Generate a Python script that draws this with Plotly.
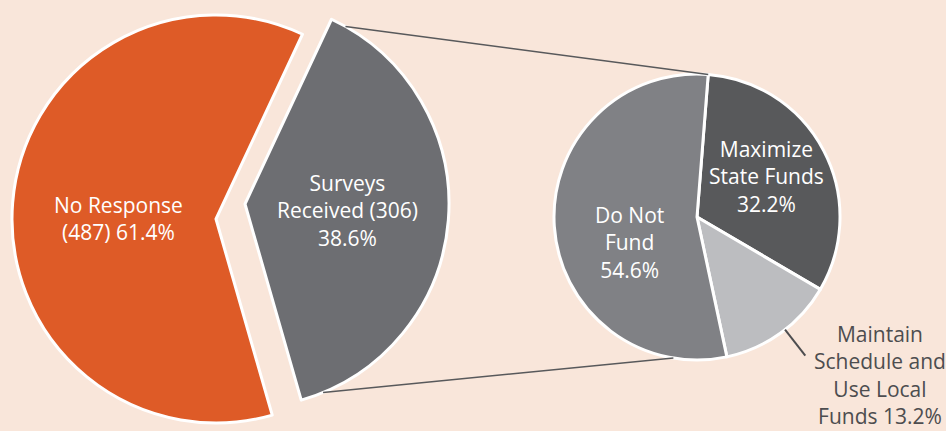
import math
import plotly.graph_objects as go

# ---- data ----
outer_labels = ["No Response", "Surveys Received"]
outer_counts = [487, 306]
outer_pct = [61.4, 38.6]

inner_labels = ["Maximize State Funds", "Maintain Schedule and Use Local Funds", "Do Not Fund"]
inner_pct = [32.2, 13.2, 54.6]

outer_text = ["No Response<br>(487) 61.4%", "Surveys<br>Received (306)<br>38.6%"]
inner_text = ["Maximize<br>State Funds<br>32.2%", "Maintain<br>Schedule and<br>Use Local<br>Funds 13.2%", "Do Not<br>Fund<br>54.6%"]

# ---- styles / layout ----
W, H = 946, 431
BG = "#F9E6DA"
ORANGE = "#DE5B27"
GRAY_OUT = "#6D6E72"
C_MAX = "#58595B"
C_MAINT = "#BCBDC0"
C_DNF = "#808185"
CLEAR = "rgba(0,0,0,0)"
FONT = "Open Sans"

# pie geometry in pixels (center x, center y, radius)
P_LEFT = (216, 219, 204)
P_GRAY = (245, 204, 204)
P_RIGHT = (697, 217, 143)
ROT_OUT = 164
ROT_IN = 4.5


def domain(p):
    cx, cy, r = p
    return dict(x=[(cx - r) / W, (cx + r) / W], y=[1 - (cy + r) / H, 1 - (cy - r) / H])


def on_circle(p, ang, k=1.0):
    cx, cy, r = p
    a = math.radians(ang)
    x = cx + k * r * math.sin(a)
    y = cy - k * r * math.cos(a)
    return x / W, 1 - y / H


fig = go.Figure()
common = dict(sort=False, direction="clockwise", textinfo="none", hoverinfo="skip", showlegend=False)

fig.add_trace(go.Pie(values=outer_counts, labels=outer_labels, rotation=ROT_OUT, domain=domain(P_LEFT),
                     marker=dict(colors=[ORANGE, CLEAR], line=dict(color=["white", CLEAR], width=[3, 0])), **common))
fig.add_trace(go.Pie(values=outer_counts, labels=outer_labels, rotation=ROT_OUT, domain=domain(P_GRAY),
                     marker=dict(colors=[CLEAR, GRAY_OUT], line=dict(color=[CLEAR, "white"], width=[0, 3])), **common))
fig.add_trace(go.Pie(values=inner_pct, labels=inner_labels, rotation=ROT_IN, domain=domain(P_RIGHT),
                     marker=dict(colors=[C_MAX, C_MAINT, C_DNF], line=dict(color="white", width=3)), **common))

shapes = []
# connector lines
x0, y0 = on_circle(P_GRAY, 29.5)
x1, y1 = on_circle(P_RIGHT, ROT_IN)
shapes.append(dict(type="line", xref="paper", yref="paper", x0=x0, y0=y0, x1=x1, y1=y1,
                   line=dict(color="#58595B", width=1.5)))
x0, y0 = on_circle(P_GRAY, 157.5)
x1, y1 = on_circle(P_RIGHT, 189.5)
shapes.append(dict(type="line", xref="paper", yref="paper", x0=x0, y0=y0, x1=x1, y1=y1,
                   line=dict(color="#58595B", width=1.5)))
# leader for small slice
x0, y0 = on_circle(P_RIGHT, 142, 1.0)
x1, y1 = on_circle(P_RIGHT, 142, 1.23)
shapes.append(dict(type="line", xref="paper", yref="paper", x0=x0, y0=y0, x1=x1, y1=y1,
                   line=dict(color="#4D4D4F", width=2)))

label_pos = [(118, 218, outer_text[0], "white"),
             (347, 210, outer_text[1], "white"),
             (766, 177, inner_text[0], "white"),
             (880, 375, inner_text[1], "#4D4D4F"),
             (629, 243, inner_text[2], "white")]
annotations = []
for x, y, t, c in label_pos:
    annotations.append(dict(x=x / W, y=1 - y / H, xref="paper", yref="paper", text=t, showarrow=False,
                            xanchor="center", yanchor="middle", align="center",
                            font=dict(family=FONT, size=21, color=c)))

fig.update_layout(width=W, height=H, margin=dict(l=0, r=0, t=0, b=0),
                  paper_bgcolor=BG, plot_bgcolor=BG, shapes=shapes, annotations=annotations,
                  showlegend=False)

fig.write_html("out.html", config={"displayModeBar": False},
               post_script="document.body.style.margin='0';document.body.style.padding='0';"
                           "document.body.style.overflow='hidden';document.body.style.background='" + BG + "';")
